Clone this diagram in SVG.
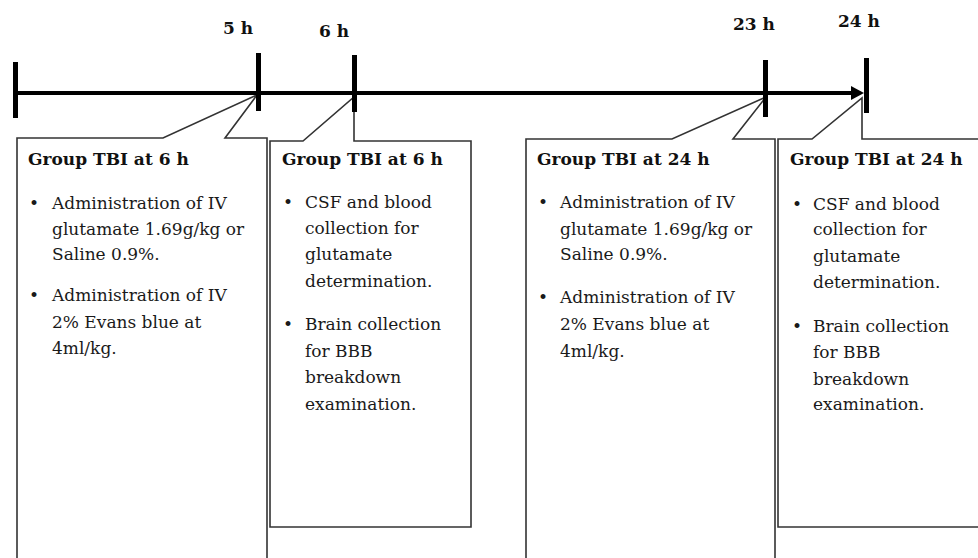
<svg xmlns="http://www.w3.org/2000/svg" width="978" height="558" viewBox="0 0 978 558">
<style>
  .box { fill: #ffffff; stroke: #333333; stroke-width: 1.6; stroke-linejoin: miter; }
  .t { font-family: "DejaVu Serif", "Liberation Serif", serif; font-size: 17px; fill: #1a1a1a; }
  .h { font-family: "DejaVu Serif", "Liberation Serif", serif; font-size: 17px; font-weight: bold; fill: #111111; }
  .tick { fill: #000000; }
  .axis { stroke: #000000; stroke-width: 4; fill: none; }
</style>
<rect width="978" height="558" fill="#ffffff"/>

<g id="node-1">
  <path class="box" d="M17,566 L17,138 L163,138 L257,95 L225,138 L267,138 L267,566 Z"/>
  <text class="h" x="28" y="165">Group TBI at 6 h</text>
  <text class="t" x="29" y="209">•</text>
  <text class="t" x="52" y="209">Administration of IV</text>
  <text class="t" x="52" y="235">glutamate 1.69g/kg or</text>
  <text class="t" x="52" y="260">Saline 0.9%.</text>
  <text class="t" x="29" y="301">•</text>
  <text class="t" x="52" y="301">Administration of IV</text>
  <text class="t" x="52" y="328">2% Evans blue at</text>
  <text class="t" x="52" y="354">4ml/kg.</text>
</g>

<g id="node-2">
  <path class="box" d="M270,527 L270,141 L303,141 L354,97 L354,141 L471,141 L471,527 Z"/>
  <text class="h" x="282" y="165">Group TBI at 6 h</text>
  <text class="t" x="283" y="208">•</text>
  <text class="t" x="305" y="208">CSF and blood</text>
  <text class="t" x="305" y="234">collection for</text>
  <text class="t" x="305" y="260">glutamate</text>
  <text class="t" x="305" y="287">determination.</text>
  <text class="t" x="283" y="330">•</text>
  <text class="t" x="305" y="330">Brain collection</text>
  <text class="t" x="305" y="357">for BBB</text>
  <text class="t" x="305" y="383">breakdown</text>
  <text class="t" x="305" y="410">examination.</text>
</g>

<g id="node-3">
  <path class="box" d="M526,566 L526,139 L672,139 L766,97 L733,139 L775,139 L775,566 Z"/>
  <text class="h" x="537" y="165">Group TBI at 24 h</text>
  <text class="t" x="538" y="208">•</text>
  <text class="t" x="560" y="208">Administration of IV</text>
  <text class="t" x="560" y="235">glutamate 1.69g/kg or</text>
  <text class="t" x="560" y="260">Saline 0.9%.</text>
  <text class="t" x="538" y="303">•</text>
  <text class="t" x="560" y="303">Administration of IV</text>
  <text class="t" x="560" y="330">2% Evans blue at</text>
  <text class="t" x="560" y="357">4ml/kg.</text>
</g>

<g id="node-4">
  <path class="box" d="M778,527 L778,139 L812,139 L862,98 L862,139 L990,139 L990,527 Z"/>
  <text class="h" x="790" y="165">Group TBI at 24 h</text>
  <text class="t" x="792" y="210">•</text>
  <text class="t" x="813" y="210">CSF and blood</text>
  <text class="t" x="813" y="235">collection for</text>
  <text class="t" x="813" y="262">glutamate</text>
  <text class="t" x="813" y="288">determination.</text>
  <text class="t" x="792" y="332">•</text>
  <text class="t" x="813" y="332">Brain collection</text>
  <text class="t" x="813" y="358">for BBB</text>
  <text class="t" x="813" y="385">breakdown</text>
  <text class="t" x="813" y="410">examination.</text>
</g>

<g id="connectors">
  <line class="axis" x1="18" y1="93" x2="854" y2="93"/>
  <polygon points="851,86 864,93 851,100" fill="#000000"/>
  <rect class="tick" x="13" y="62" width="5" height="56"/>
  <rect class="tick" x="256" y="53" width="5" height="58"/>
  <rect class="tick" x="352" y="55" width="5" height="57"/>
  <rect class="tick" x="763" y="60" width="5" height="57"/>
  <rect class="tick" x="864" y="58" width="5" height="55"/>
</g>

<g id="labels">
  <text class="h" x="223" y="34">5 h</text>
  <text class="h" x="319" y="37">6 h</text>
  <text class="h" x="733" y="30">23 h</text>
  <text class="h" x="838" y="27">24 h</text>
</g>
</svg>
